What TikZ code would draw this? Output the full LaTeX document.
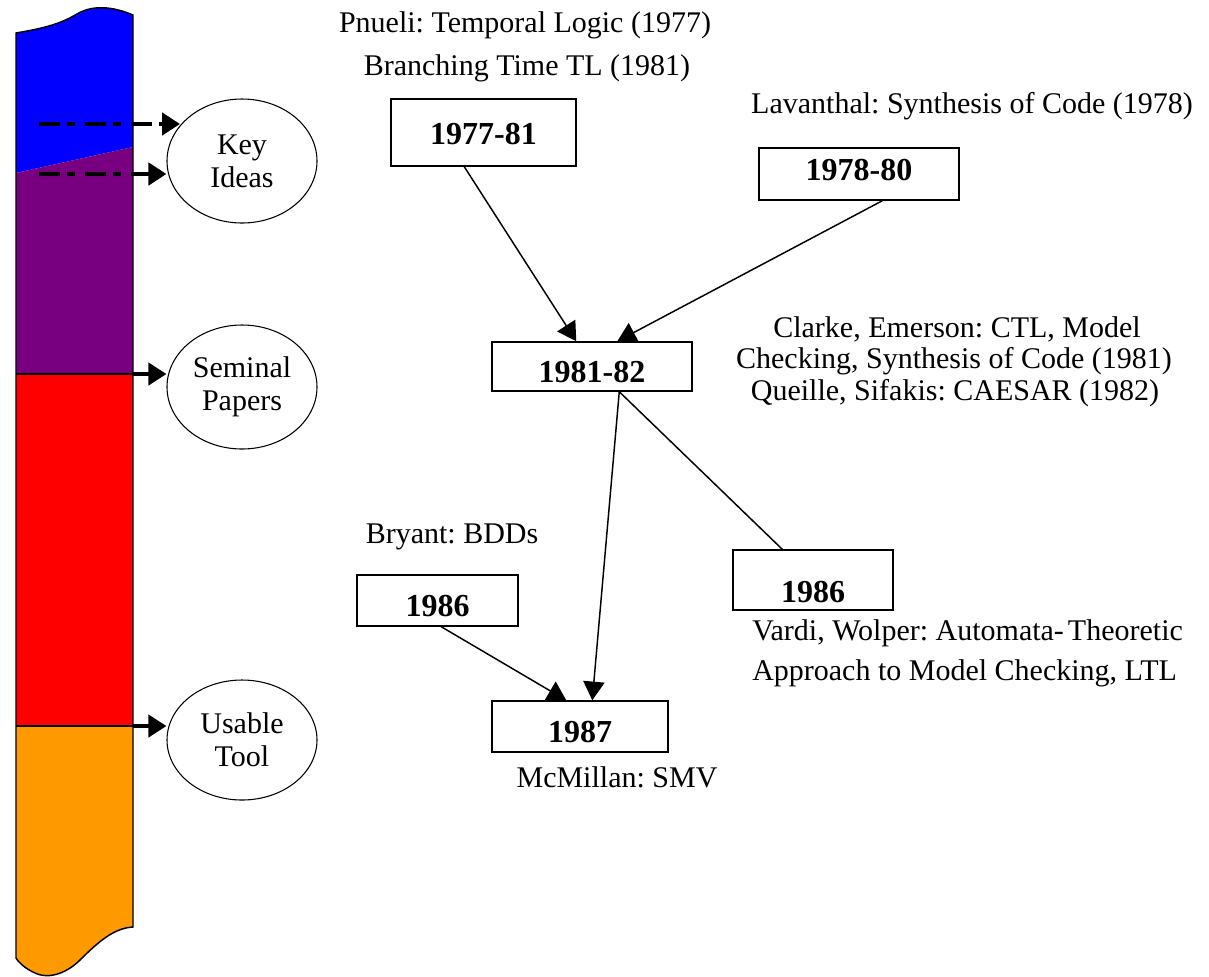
\documentclass[tikz,border=0pt]{standalone}
\usepackage{fontspec}
\setmainfont{Liberation Serif}
\usetikzlibrary{arrows.meta,shapes.geometric,calc}
\frenchspacing

\definecolor{barblue}{RGB}{0,0,255}
\definecolor{barpurple}{RGB}{120,0,128}
\definecolor{barred}{RGB}{255,0,0}
\definecolor{barorange}{RGB}{255,153,0}

\tikzset{
  yearbox/.style={draw, rectangle, line width=1.1pt, inner sep=0pt,
    font=\fontsize{24}{26}\selectfont\bfseries, text depth=0pt},
  phase/.style={draw, ellipse, line width=0.8pt, inner sep=0pt, align=center,
    minimum width=112.5pt, minimum height=93pt,
    font=\fontsize{22.5}{24.75}\selectfont},
  note/.style={anchor=base, inner sep=0pt, font=\fontsize{22.5}{24.75}\selectfont},
  link/.style={line width=1.1pt, -{Triangle[length=14pt,width=16pt]}},
  plainlink/.style={line width=1.1pt},
  feed/.style={line width=3pt, -{Triangle[length=13.5pt,width=16.5pt]}},
  dashfeed/.style={feed, line width=3.6pt,
    dash pattern=on 15.75pt off 5.25pt on 6pt off 7.5pt},
}

\begin{document}
\begin{tikzpicture}[x=0.75pt, y=-0.75pt]
\useasboundingbox (0,0) rectangle (1209,976);

% --- the coloured time bar ---
\fill[barblue] (16,173) -- (16,33)
  .. controls (45,28) and (60,24) .. (77,14)
  .. controls (92,5) and (112,6) .. (133,15) -- (133,147) -- cycle;
\fill[barpurple] (16,173) -- (133,147) -- (133,374) -- (16,374) -- cycle;
\fill[barred] (16,374) rectangle (133,726);
\fill[barorange] (16,726) -- (133,726) -- (133,927)
  .. controls (115,928) and (100,940) .. (80,960)
  .. controls (68,972) and (50,980) .. (35,973)
  .. controls (26,969) and (19,963) .. (16,958) -- cycle;
\draw[line width=1.1pt] (16,958) -- (16,33)
  .. controls (45,28) and (60,24) .. (77,14)
  .. controls (92,5) and (112,6) .. (133,15) -- (133,927)
  .. controls (115,928) and (100,940) .. (80,960)
  .. controls (68,972) and (50,980) .. (35,973)
  .. controls (26,969) and (19,963) .. (16,958) -- cycle;
\draw[line width=1.4pt] (16,374) -- (133,374);
\draw[line width=1.4pt] (16,726) -- (133,726);

% --- phases ---
\node[phase] (ki) at (242,161) {Key\\Ideas};
\node[phase] (sp) at (242,387) {Seminal\\Papers};
\node[phase, minimum height=90pt] (ut) at (242,740) {Usable\\Tool};

\coordinate (kiA) at (39,124);
\coordinate (kiB) at (39,174);
\coordinate (spA) at (133,374);
\coordinate (utA) at (133,726);

\draw[dashfeed] (kiA) -- (kiA -| ki.150);
\draw[dashfeed] (kiB) -- (kiB -| ki.west);
\draw[feed] (spA) -- (spA -| sp.west);
\draw[feed] (utA) -- (utA -| ut.west);

% --- milestones ---
\node[yearbox, minimum width=138.75pt, minimum height=50.25pt, text height=17.25pt]
  (y7781) at (483.5,132.5) {1977-81};
\node[yearbox, minimum width=150pt, minimum height=39pt, text height=9pt]
  (y7880) at (859,174) {1978-80};
\node[yearbox, minimum width=150pt, minimum height=36.75pt, text height=23.25pt]
  (y8182) at (592,366.5) {1981-82};
\node[yearbox, minimum width=120pt, minimum height=45pt, text height=33pt]
  (y86r) at (813,580) {1986};
\node[yearbox, minimum width=120.75pt, minimum height=38.25pt, text height=24pt]
  (y86l) at (437.5,600.5) {1986};
\node[yearbox, minimum width=132pt, minimum height=38.25pt, text height=23.25pt]
  (y87) at (580,726.5) {1987};

% --- influences ---
\draw[link] ($(y7781.south west)+(74,0)$) -- ($(y8182.north west)+(85,0)$);
\draw[link] ($(y7880.south west)+(124,0)$) -- ($(y8182.north west)+(126,0)$);
\draw[link] ($(y8182.south west)+(128,0)$) -- ($(y87.north west)+(101,0)$);
\draw[plainlink] ($(y8182.south west)+(128,0)$) -- ($(y86r.north west)+(50,0)$);
\draw[link] ($(y86l.south west)+(85,0)$) -- ($(y87.north west)+(75,0)$);

% --- annotations ---
\node[note] (n1) at (525,32) {Pnueli: Temporal Logic (1977)};
\node[note] (n2) at (527,75) {Branching Time TL (1981)};
\node[note] (n3) at (972,113) {Lavanthal: Synthesis of Code (1978)};
\node[note] (n4a) at (957,337) {Clarke, Emerson: CTL, Model};
\node[note] (n4b) at (954,368) {Checking, Synthesis of Code (1981)};
\node[note] (n4c) at (955,400) {Queille, Sifakis: CAESAR (1982)};
\node[note, anchor=base west] (n5a) at (752,640) {Vardi, Wolper: Automata-\hspace{3pt}Theoretic};
\node[note, anchor=base west] (n5b) at (752,680) {Approach to Model Checking, LTL};
\node[note] (n6) at (452,543) {Bryant: BDDs};
\node[note] (n7) at (617,787) {McMillan: SMV};
\end{tikzpicture}
\end{document}
